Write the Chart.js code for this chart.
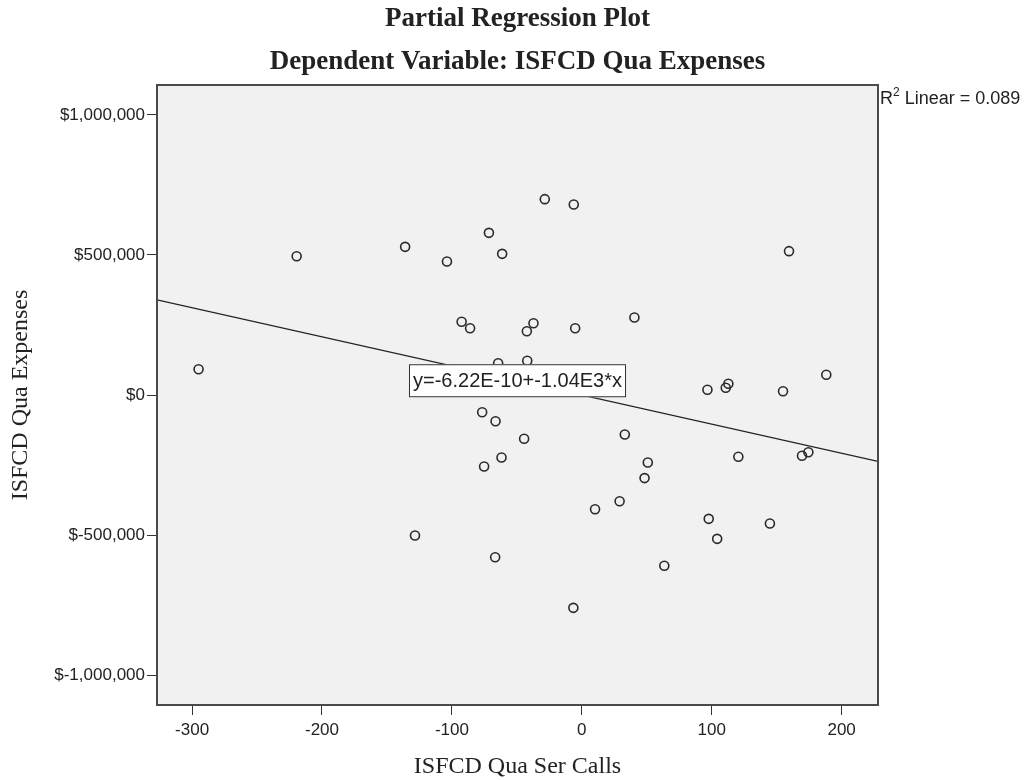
<!DOCTYPE html>
<html>
<head>
<meta charset="utf-8">
<script src="https://cdn.jsdelivr.net/npm/chart.js@4.4.0/dist/chart.umd.min.js"></script>
<style>
  html, body { margin: 0; background: #fff; }
  canvas { display: block; }
</style>
</head>
<body>
<canvas id="plot" width="1024" height="780"></canvas>
<script>
// residuals of ser calls (x) and expenses (y) after the other predictors
const serCalls = [-295, -219.5, -136, -71.5, -61.3, -103.8, -92.5, -86, -64.4, -76.7, -66.4,
  -61.8, -75.2, -44.4, -28.5, -6.2, 159.5, -37.2, -42.3, -5.1, 40.5, -42, 96.7, 110.8, 112.8,
  154.9, 188.2, 33.1, 50.8, 48.3, 120.5, 169.5, 174.4, 29.1, 10.2, 97.7, 144.8, 104.2, -128.4,
  -66.7, 63.5, -6.5];
const expenses = [92100, 495700, 529000, 579000, 504000, 476800, 261400, 238600, 113600, -61400,
  -93600, -223200, -255400, -156400, 699300, 680400, 513600, 256400, 227900, 238600, 276800,
  122100, 18600, 25700, 40000, 13600, 72100, -141100, -241100, -296800, -220700, -217100,
  -204300, -379300, -407800, -442300, -459000, -513600, -501800, -579300, -610000, -760000];

const xTicks = [-300, -200, -100, 0, 100, 200];
const yTicks = [-1000000, -500000, 0, 500000, 1000000];
const xRange = [-327, 228];
const yRange = [-1107000, 1107000];

// fitted line as reported by SPSS
const intercept = -6.22e-10;
const slope = -1.04e3;
const rSquared = 0.089;

const chartTitle = "Partial Regression Plot";
const chartSubtitle = "Dependent Variable: ISFCD Qua Expenses";

const SANS = "'Liberation Sans', Arial, sans-serif";
const SERIF = "'Liberation Serif', 'Times New Roman', serif";
const INK = "#222";

function sci(v) {
  return v.toExponential(2).toUpperCase().replace("E+", "E");
}
function money(v) {
  const s = Math.abs(v).toLocaleString("en-US");
  return v < 0 ? "$-" + s : "$" + s;
}

const points = serCalls.map((x, i) => ({ x, y: expenses[i] }));
const fitLine = xRange.map((x) => ({ x, y: intercept + slope * x }));

const frame = {
  id: "frame",
  beforeDraw(chart) {
    const { ctx, chartArea: a } = chart;
    ctx.save();
    ctx.fillStyle = "#f0f1f0";
    ctx.fillRect(a.left, a.top, a.right - a.left, a.bottom - a.top);

    // two title lines centred over the plot frame
    const cx = (a.left + a.right) / 2;
    ctx.fillStyle = INK;
    ctx.textAlign = "center";
    ctx.textBaseline = "middle";
    ctx.font = "bold 27px " + SERIF;
    ctx.fillText(chartTitle, cx, 19);
    ctx.fillText(chartSubtitle, cx, 62);
    ctx.restore();
  },
  afterDatasetsDraw(chart) {
    const { ctx, chartArea: a } = chart;
    ctx.save();
    ctx.strokeStyle = "#4a4a4a";
    ctx.lineWidth = 2;
    ctx.strokeRect(a.left, a.top, a.right - a.left, a.bottom - a.top);

    // equation box
    const text = "y=" + sci(intercept) + "+" + sci(slope) + "*x";
    ctx.font = "20px " + SANS;
    const w = ctx.measureText(text).width + 8;
    const h = 33;
    const cx = (a.left + a.right) / 2;
    const cy = a.top + (a.bottom - a.top) * 0.477;
    ctx.fillStyle = "#fff";
    ctx.fillRect(cx - w / 2, cy - h / 2, w, h);
    ctx.strokeStyle = "#333";
    ctx.lineWidth = 1;
    ctx.strokeRect(cx - w / 2 + 0.5, cy - h / 2 + 0.5, w - 1, h - 1);
    ctx.fillStyle = INK;
    ctx.textAlign = "center";
    ctx.textBaseline = "middle";
    ctx.fillText(text, cx, cy + 1);

    // R squared note beside the frame
    let x = a.right + 2;
    const base = a.top + 19;
    ctx.textAlign = "left";
    ctx.textBaseline = "alphabetic";
    ctx.font = "18px " + SANS;
    ctx.fillText("R", x, base);
    x += ctx.measureText("R").width;
    ctx.font = "12px " + SANS;
    ctx.fillText("2", x, base - 8);
    x += ctx.measureText("2").width;
    ctx.font = "18px " + SANS;
    ctx.fillText(" Linear = " + rSquared.toFixed(3), x, base);
    ctx.restore();
  }
};

new Chart(document.getElementById("plot"), {
  type: "scatter",
  data: {
    datasets: [
      {
        data: points,
        pointStyle: "circle",
        pointRadius: 4.5,
        pointHoverRadius: 4.5,
        borderColor: "#2a2a2a",
        borderWidth: 1.6,
        backgroundColor: "rgba(0,0,0,0)",
        order: 1
      },
      {
        type: "line",
        data: fitLine,
        borderColor: "#222",
        borderWidth: 1.2,
        pointRadius: 0,
        fill: false,
        order: 2
      }
    ]
  },
  options: {
    responsive: false,
    animation: false,
    devicePixelRatio: 1,
    layout: { padding: { left: 0, top: 85, right: 146, bottom: 0 } },
    plugins: {
      legend: { display: false },
      tooltip: { enabled: false }
    },
    scales: {
      x: {
        type: "linear",
        min: xRange[0],
        max: xRange[1],
        afterBuildTicks: (s) => { s.ticks = xTicks.map((value) => ({ value })); },
        afterFit: (s) => { s.height = 75; },
        grid: { drawOnChartArea: false, drawTicks: true, tickLength: 10, color: "#333" },
        border: { display: false },
        ticks: { color: INK, font: { family: SANS, size: 17 }, padding: 5, maxRotation: 0 },
        title: {
          display: true,
          text: "ISFCD Qua Ser Calls",
          color: INK,
          font: { family: SERIF, size: 24 },
          padding: { top: 0, bottom: -1 }
        }
      },
      y: {
        type: "linear",
        min: yRange[0],
        max: yRange[1],
        afterBuildTicks: (s) => { s.ticks = yTicks.map((value) => ({ value })); },
        afterFit: (s) => { s.width = 157; },
        grid: { drawOnChartArea: false, drawTicks: true, tickLength: 10, color: "#333" },
        border: { display: false },
        ticks: { color: INK, font: { family: SANS, size: 17 }, padding: 2, callback: money },
        title: {
          display: true,
          text: "ISFCD Qua Expenses",
          color: INK,
          font: { family: SERIF, size: 24 },
          padding: { top: 6, bottom: 0 }
        }
      }
    }
  },
  plugins: [frame]
});
</script>
</body>
</html>
